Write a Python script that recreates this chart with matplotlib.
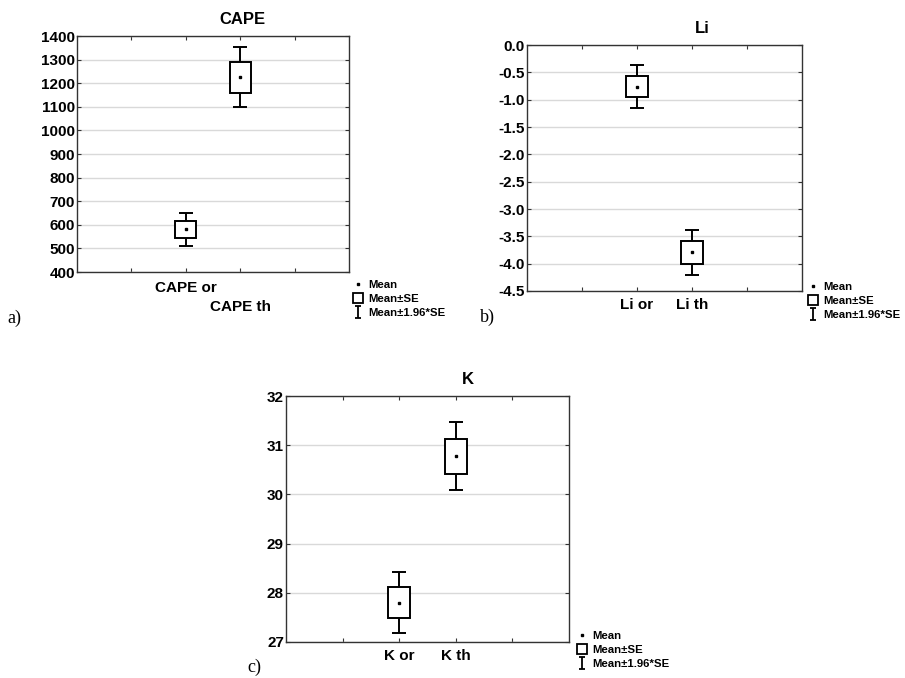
import numpy as np
import matplotlib
matplotlib.use('Agg')
import matplotlib.pyplot as plt
from matplotlib.lines import Line2D
from matplotlib.path import Path
from matplotlib.transforms import ScaledTranslation

plt.rcParams['font.family'] = ['Liberation Sans', 'DejaVu Sans']
plt.rcParams['font.weight'] = 'bold'

# Données (moyenne et erreur standard)
cape_labels = ['CAPE or', 'CAPE th']
cape_mean = [581, 1226]
cape_se = [35.5, 65.5]
cape_yticks = [400, 500, 600, 700, 800, 900, 1000, 1100, 1200, 1300, 1400]

li_labels = ['Li or', 'Li th']
li_mean = [-0.76, -3.79]
li_se = [0.20, 0.21]
li_yticks = [-4.5, -4.0, -3.5, -3.0, -2.5, -2.0, -1.5, -1.0, -0.5, 0.0]

k_labels = ['K or', 'K th']
k_mean = [27.80, 30.78]
k_se = [0.32, 0.355]
k_yticks = [27, 28, 29, 30, 31, 32]

legend_labels = ['Mean', 'Mean±SE', 'Mean±1.96*SE']


def plot_panel(ax, labels, means, se, title, yticks, fmt, title_x):
    x = np.array([2, 3])
    means = np.array(means)
    se = np.array(se)
    ax.errorbar(x, means, yerr=1.96 * se, fmt='none', ecolor='black',
                elinewidth=1.4, capsize=4.7, capthick=1.4, zorder=2)
    ax.bar(x, 2 * se, bottom=means - se, width=0.39, color='white',
           edgecolor='black', linewidth=1.4, zorder=3)
    ax.plot(x, means, ls='none', marker='s', ms=2, color='black', zorder=4)

    ax.set_xlim(0, 5)
    ax.set_ylim(yticks[0], yticks[-1])
    ax.set_xticks([1, 2, 3, 4])
    ax.set_xticklabels([''] + labels + [''], fontsize=11, fontweight='bold')
    ax.set_yticks(yticks)
    ax.set_yticklabels([fmt.format(v) for v in yticks], fontsize=11,
                       fontweight='bold')
    ax.tick_params(direction='in', length=3, width=0.8, top=True, right=True,
                   colors='#333333', labelcolor='black')
    ax.tick_params(axis='y', pad=1.5)
    ax.tick_params(axis='x', pad=5)
    ax.yaxis.grid(True, color='#d9d9d9', linewidth=1)
    ax.set_axisbelow(True)
    for sp in ax.spines.values():
        sp.set_linewidth(1.0)
        sp.set_color('#333333')
    ax.set_title(title, fontsize=12, fontweight='bold', x=title_x, pad=9)


def add_legend(fig, x, y):
    whisker = Path([(-0.6, -1), (0.6, -1), (0, -1), (0, 1), (-0.6, 1), (0.6, 1)],
                   [Path.MOVETO, Path.LINETO, Path.MOVETO, Path.LINETO,
                    Path.MOVETO, Path.LINETO])
    handles = [
        Line2D([], [], ls='none', marker='s', ms=2, color='black'),
        Line2D([], [], ls='none', marker='s', ms=7, mfc='white', mec='black', mew=1.3),
        Line2D([], [], ls='none', marker=whisker, ms=8, color='black', mew=1.3),
    ]
    fig.legend(handles, legend_labels, loc='upper left', bbox_to_anchor=(x, y),
               frameon=False, handlelength=0.8, handletextpad=0.5,
               labelspacing=0.36, borderpad=0, borderaxespad=0,
               prop={'weight': 'bold', 'size': 8.2})


fig = plt.figure(figsize=(9.05, 6.78), dpi=100)

ax_a = fig.add_axes([0.0851, 0.5988, 0.3006, 0.348])
ax_b = fig.add_axes([0.5823, 0.5708, 0.3039, 0.3628])
ax_c = fig.add_axes([0.3160, 0.0531, 0.3127, 0.3628])

plot_panel(ax_a, cape_labels, cape_mean, cape_se, 'CAPE', cape_yticks, '{:.0f}', 0.607)
plot_panel(ax_b, li_labels, li_mean, li_se, 'Li', li_yticks, '{:.1f}', 0.636)
plot_panel(ax_c, k_labels, k_mean, k_se, 'K', k_yticks, '{:.0f}', 0.643)

# Étiquettes décalées pour CAPE
lbls = ax_a.get_xticklabels()
lbls[1].set_transform(lbls[1].get_transform() + ScaledTranslation(0, -1.5 / 72, fig.dpi_scale_trans))
lbls[2].set_transform(lbls[2].get_transform() + ScaledTranslation(0, -15.5 / 72, fig.dpi_scale_trans))

add_legend(fig, 0.390, 0.587)
add_legend(fig, 0.893, 0.584)
add_legend(fig, 0.638, 0.070)

serif = {'family': 'Liberation Serif', 'size': 13, 'weight': 'normal'}
fig.text(7 / 905, 1 - 318 / 678, 'a)', fontdict=serif, va='center')
fig.text(480 / 905, 1 - 317 / 678, 'b)', fontdict=serif, va='center')
fig.text(247 / 905, 1 - 667 / 678, 'c)', fontdict=serif, va='center')

fig.savefig('out.png', dpi=100)
